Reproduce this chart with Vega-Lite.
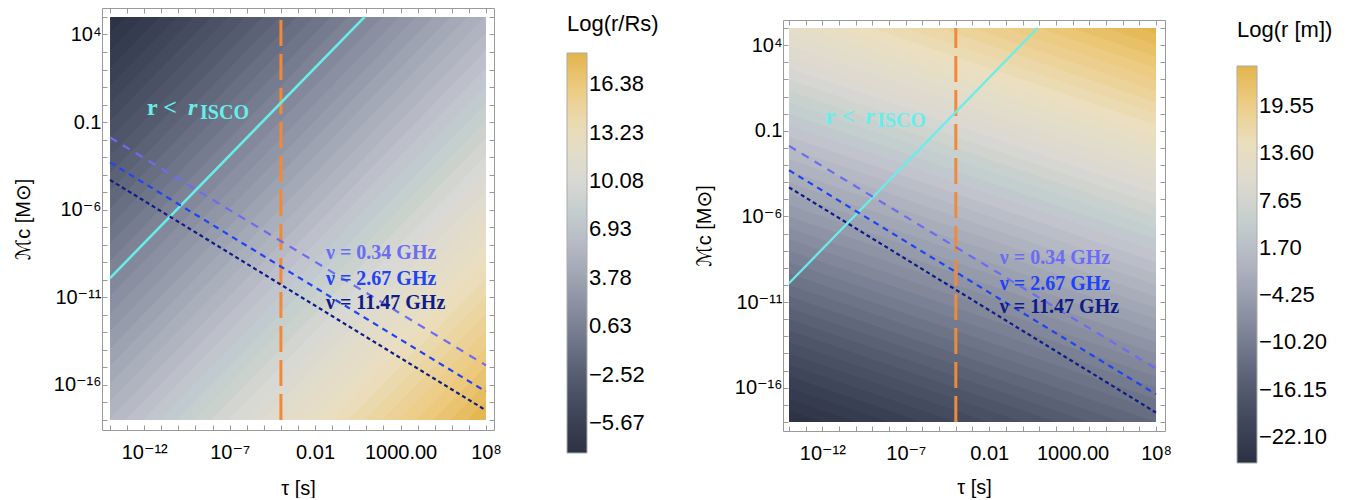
{
"$schema": "https://vega.github.io/schema/vega-lite/v6.json",
"background": "white",
"padding": {"left": 13, "top": 6, "right": 0, "bottom": 0},
"spacing": 29,
"datasets": {
"bandsL": [
{"k":-19,"t":1e-15,"lo":1e3,"hi":1.2e4,"v":-7.31},{"k":-19,"t":1e9,"lo":1e27,"hi":1.2e28,"v":-7.31},
{"k":-18,"t":1e-15,"lo":1e2,"hi":1.2e3,"v":-6.73},{"k":-18,"t":1e9,"lo":1e26,"hi":1.2e27,"v":-6.73},
{"k":-17,"t":1e-15,"lo":1e1,"hi":1.2e2,"v":-6.15},{"k":-17,"t":1e9,"lo":1e25,"hi":1.2e26,"v":-6.15},
{"k":-16,"t":1e-15,"lo":1e0,"hi":1.2e1,"v":-5.58},{"k":-16,"t":1e9,"lo":1e24,"hi":1.2e25,"v":-5.58},
{"k":-15,"t":1e-15,"lo":1e-1,"hi":1.2e0,"v":-5.0},{"k":-15,"t":1e9,"lo":1e23,"hi":1.2e24,"v":-5.0},
{"k":-14,"t":1e-15,"lo":1e-2,"hi":1.2e-1,"v":-4.42},{"k":-14,"t":1e9,"lo":1e22,"hi":1.2e23,"v":-4.42},
{"k":-13,"t":1e-15,"lo":1e-3,"hi":1.2e-2,"v":-3.84},{"k":-13,"t":1e9,"lo":1e21,"hi":1.2e22,"v":-3.84},
{"k":-12,"t":1e-15,"lo":1e-4,"hi":1.2e-3,"v":-3.26},{"k":-12,"t":1e9,"lo":1e20,"hi":1.2e21,"v":-3.26},
{"k":-11,"t":1e-15,"lo":1e-5,"hi":1.2e-4,"v":-2.69},{"k":-11,"t":1e9,"lo":1e19,"hi":1.2e20,"v":-2.69},
{"k":-10,"t":1e-15,"lo":1e-6,"hi":1.2e-5,"v":-2.11},{"k":-10,"t":1e9,"lo":1e18,"hi":1.2e19,"v":-2.11},
{"k":-9,"t":1e-15,"lo":1e-7,"hi":1.2e-6,"v":-1.53},{"k":-9,"t":1e9,"lo":1e17,"hi":1.2e18,"v":-1.53},
{"k":-8,"t":1e-15,"lo":1e-8,"hi":1.2e-7,"v":-0.95},{"k":-8,"t":1e9,"lo":1e16,"hi":1.2e17,"v":-0.95},
{"k":-7,"t":1e-15,"lo":1e-9,"hi":1.2e-8,"v":-0.38},{"k":-7,"t":1e9,"lo":1e15,"hi":1.2e16,"v":-0.38},
{"k":-6,"t":1e-15,"lo":1e-10,"hi":1.2e-9,"v":0.2},{"k":-6,"t":1e9,"lo":1e14,"hi":1.2e15,"v":0.2},
{"k":-5,"t":1e-15,"lo":1e-11,"hi":1.2e-10,"v":0.78},{"k":-5,"t":1e9,"lo":1e13,"hi":1.2e14,"v":0.78},
{"k":-4,"t":1e-15,"lo":1e-12,"hi":1.2e-11,"v":1.36},{"k":-4,"t":1e9,"lo":1e12,"hi":1.2e13,"v":1.36},
{"k":-3,"t":1e-15,"lo":1e-13,"hi":1.2e-12,"v":1.94},{"k":-3,"t":1e9,"lo":1e11,"hi":1.2e12,"v":1.94},
{"k":-2,"t":1e-15,"lo":1e-14,"hi":1.2e-13,"v":2.51},{"k":-2,"t":1e9,"lo":1e10,"hi":1.2e11,"v":2.51},
{"k":-1,"t":1e-15,"lo":1e-15,"hi":1.2e-14,"v":3.09},{"k":-1,"t":1e9,"lo":1e9,"hi":1.2e10,"v":3.09},
{"k":0,"t":1e-15,"lo":1e-16,"hi":1.2e-15,"v":3.67},{"k":0,"t":1e9,"lo":1e8,"hi":1.2e9,"v":3.67},
{"k":1,"t":1e-15,"lo":1e-17,"hi":1.2e-16,"v":4.25},{"k":1,"t":1e9,"lo":1e7,"hi":1.2e8,"v":4.25},
{"k":2,"t":1e-15,"lo":1e-18,"hi":1.2e-17,"v":4.83},{"k":2,"t":1e9,"lo":1e6,"hi":1.2e7,"v":4.83},
{"k":3,"t":1e-15,"lo":1e-19,"hi":1.2e-18,"v":5.4},{"k":3,"t":1e9,"lo":1e5,"hi":1.2e6,"v":5.4},
{"k":4,"t":1e-15,"lo":1e-20,"hi":1.2e-19,"v":5.98},{"k":4,"t":1e9,"lo":1e4,"hi":1.2e5,"v":5.98},
{"k":5,"t":1e-15,"lo":1e-21,"hi":1.2e-20,"v":6.56},{"k":5,"t":1e9,"lo":1e3,"hi":1.2e4,"v":6.56},
{"k":6,"t":1e-15,"lo":1e-22,"hi":1.2e-21,"v":7.14},{"k":6,"t":1e9,"lo":1e2,"hi":1.2e3,"v":7.14},
{"k":7,"t":1e-15,"lo":1e-23,"hi":1.2e-22,"v":7.71},{"k":7,"t":1e9,"lo":1e1,"hi":1.2e2,"v":7.71},
{"k":8,"t":1e-15,"lo":1e-24,"hi":1.2e-23,"v":8.29},{"k":8,"t":1e9,"lo":1e0,"hi":1.2e1,"v":8.29},
{"k":9,"t":1e-15,"lo":1e-25,"hi":1.2e-24,"v":8.87},{"k":9,"t":1e9,"lo":1e-1,"hi":1.2e0,"v":8.87},
{"k":10,"t":1e-15,"lo":1e-26,"hi":1.2e-25,"v":9.45},{"k":10,"t":1e9,"lo":1e-2,"hi":1.2e-1,"v":9.45},
{"k":11,"t":1e-15,"lo":1e-27,"hi":1.2e-26,"v":10.03},{"k":11,"t":1e9,"lo":1e-3,"hi":1.2e-2,"v":10.03},
{"k":12,"t":1e-15,"lo":1e-28,"hi":1.2e-27,"v":10.6},{"k":12,"t":1e9,"lo":1e-4,"hi":1.2e-3,"v":10.6},
{"k":13,"t":1e-15,"lo":1e-29,"hi":1.2e-28,"v":11.18},{"k":13,"t":1e9,"lo":1e-5,"hi":1.2e-4,"v":11.18},
{"k":14,"t":1e-15,"lo":1e-30,"hi":1.2e-29,"v":11.76},{"k":14,"t":1e9,"lo":1e-6,"hi":1.2e-5,"v":11.76},
{"k":15,"t":1e-15,"lo":1e-31,"hi":1.2e-30,"v":12.34},{"k":15,"t":1e9,"lo":1e-7,"hi":1.2e-6,"v":12.34},
{"k":16,"t":1e-15,"lo":1e-32,"hi":1.2e-31,"v":12.91},{"k":16,"t":1e9,"lo":1e-8,"hi":1.2e-7,"v":12.91},
{"k":17,"t":1e-15,"lo":1e-33,"hi":1.2e-32,"v":13.49},{"k":17,"t":1e9,"lo":1e-9,"hi":1.2e-8,"v":13.49},
{"k":18,"t":1e-15,"lo":1e-34,"hi":1.2e-33,"v":14.07},{"k":18,"t":1e9,"lo":1e-10,"hi":1.2e-9,"v":14.07},
{"k":19,"t":1e-15,"lo":1e-35,"hi":1.2e-34,"v":14.65},{"k":19,"t":1e9,"lo":1e-11,"hi":1.2e-10,"v":14.65},
{"k":20,"t":1e-15,"lo":1e-36,"hi":1.2e-35,"v":15.23},{"k":20,"t":1e9,"lo":1e-12,"hi":1.2e-11,"v":15.23},
{"k":21,"t":1e-15,"lo":1e-37,"hi":1.2e-36,"v":15.8},{"k":21,"t":1e9,"lo":1e-13,"hi":1.2e-12,"v":15.8},
{"k":22,"t":1e-15,"lo":1e-38,"hi":1.2e-37,"v":16.38},{"k":22,"t":1e9,"lo":1e-14,"hi":1.2e-13,"v":16.38},
{"k":23,"t":1e-15,"lo":1e-39,"hi":1.2e-38,"v":16.96},{"k":23,"t":1e9,"lo":1e-15,"hi":1.2e-14,"v":16.96},
{"k":24,"t":1e-15,"lo":1e-40,"hi":1.2e-39,"v":17.54},{"k":24,"t":1e9,"lo":1e-16,"hi":1.2e-15,"v":17.54},
{"k":25,"t":1e-15,"lo":1e-41,"hi":1.2e-40,"v":18.12},{"k":25,"t":1e9,"lo":1e-17,"hi":1.2e-16,"v":18.12}
],
"bandsR": [
{"j":-34,"m":1e-19,"lo":1e-11,"hi":2e-9,"v":-24.86},{"j":-34,"m":1e6,"lo":1e-86,"hi":2e-84,"v":-24.86},
{"j":-33,"m":1e-19,"lo":1e-9,"hi":2e-7,"v":-23.76},{"j":-33,"m":1e6,"lo":1e-84,"hi":2e-82,"v":-23.76},
{"j":-32,"m":1e-19,"lo":1e-7,"hi":2e-5,"v":-22.66},{"j":-32,"m":1e6,"lo":1e-82,"hi":2e-80,"v":-22.66},
{"j":-31,"m":1e-19,"lo":1e-5,"hi":2e-3,"v":-21.56},{"j":-31,"m":1e6,"lo":1e-80,"hi":2e-78,"v":-21.56},
{"j":-30,"m":1e-19,"lo":1e-3,"hi":2e-1,"v":-20.46},{"j":-30,"m":1e6,"lo":1e-78,"hi":2e-76,"v":-20.46},
{"j":-29,"m":1e-19,"lo":1e-1,"hi":2e1,"v":-19.36},{"j":-29,"m":1e6,"lo":1e-76,"hi":2e-74,"v":-19.36},
{"j":-28,"m":1e-19,"lo":1e1,"hi":2e3,"v":-18.26},{"j":-28,"m":1e6,"lo":1e-74,"hi":2e-72,"v":-18.26},
{"j":-27,"m":1e-19,"lo":1e3,"hi":2e5,"v":-17.16},{"j":-27,"m":1e6,"lo":1e-72,"hi":2e-70,"v":-17.16},
{"j":-26,"m":1e-19,"lo":1e5,"hi":2e7,"v":-16.06},{"j":-26,"m":1e6,"lo":1e-70,"hi":2e-68,"v":-16.06},
{"j":-25,"m":1e-19,"lo":1e7,"hi":2e9,"v":-14.97},{"j":-25,"m":1e6,"lo":1e-68,"hi":2e-66,"v":-14.97},
{"j":-24,"m":1e-19,"lo":1e9,"hi":2e11,"v":-13.87},{"j":-24,"m":1e6,"lo":1e-66,"hi":2e-64,"v":-13.87},
{"j":-23,"m":1e-19,"lo":1e11,"hi":2e13,"v":-12.77},{"j":-23,"m":1e6,"lo":1e-64,"hi":2e-62,"v":-12.77},
{"j":-22,"m":1e-19,"lo":1e13,"hi":2e15,"v":-11.67},{"j":-22,"m":1e6,"lo":1e-62,"hi":2e-60,"v":-11.67},
{"j":-21,"m":1e-19,"lo":1e15,"hi":2e17,"v":-10.57},{"j":-21,"m":1e6,"lo":1e-60,"hi":2e-58,"v":-10.57},
{"j":-20,"m":1e-19,"lo":1e17,"hi":2e19,"v":-9.47},{"j":-20,"m":1e6,"lo":1e-58,"hi":2e-56,"v":-9.47},
{"j":-19,"m":1e-19,"lo":1e19,"hi":2e21,"v":-8.37},{"j":-19,"m":1e6,"lo":1e-56,"hi":2e-54,"v":-8.37},
{"j":-18,"m":1e-19,"lo":1e21,"hi":2e23,"v":-7.27},{"j":-18,"m":1e6,"lo":1e-54,"hi":2e-52,"v":-7.27},
{"j":-17,"m":1e-19,"lo":1e23,"hi":2e25,"v":-6.17},{"j":-17,"m":1e6,"lo":1e-52,"hi":2e-50,"v":-6.17},
{"j":-16,"m":1e-19,"lo":1e25,"hi":2e27,"v":-5.07},{"j":-16,"m":1e6,"lo":1e-50,"hi":2e-48,"v":-5.07},
{"j":-15,"m":1e-19,"lo":1e27,"hi":2e29,"v":-3.98},{"j":-15,"m":1e6,"lo":1e-48,"hi":2e-46,"v":-3.98},
{"j":-14,"m":1e-19,"lo":1e29,"hi":2e31,"v":-2.88},{"j":-14,"m":1e6,"lo":1e-46,"hi":2e-44,"v":-2.88},
{"j":-13,"m":1e-19,"lo":1e31,"hi":2e33,"v":-1.78},{"j":-13,"m":1e6,"lo":1e-44,"hi":2e-42,"v":-1.78},
{"j":-12,"m":1e-19,"lo":1e33,"hi":2e35,"v":-0.68},{"j":-12,"m":1e6,"lo":1e-42,"hi":2e-40,"v":-0.68},
{"j":-11,"m":1e-19,"lo":1e35,"hi":2e37,"v":0.42},{"j":-11,"m":1e6,"lo":1e-40,"hi":2e-38,"v":0.42},
{"j":-10,"m":1e-19,"lo":1e37,"hi":2e39,"v":1.52},{"j":-10,"m":1e6,"lo":1e-38,"hi":2e-36,"v":1.52},
{"j":-9,"m":1e-19,"lo":1e39,"hi":2e41,"v":2.62},{"j":-9,"m":1e6,"lo":1e-36,"hi":2e-34,"v":2.62},
{"j":-8,"m":1e-19,"lo":1e41,"hi":2e43,"v":3.72},{"j":-8,"m":1e6,"lo":1e-34,"hi":2e-32,"v":3.72},
{"j":-7,"m":1e-19,"lo":1e43,"hi":2e45,"v":4.82},{"j":-7,"m":1e6,"lo":1e-32,"hi":2e-30,"v":4.82},
{"j":-6,"m":1e-19,"lo":1e45,"hi":2e47,"v":5.92},{"j":-6,"m":1e6,"lo":1e-30,"hi":2e-28,"v":5.92},
{"j":-5,"m":1e-19,"lo":1e47,"hi":2e49,"v":7.02},{"j":-5,"m":1e6,"lo":1e-28,"hi":2e-26,"v":7.02},
{"j":-4,"m":1e-19,"lo":1e49,"hi":2e51,"v":8.11},{"j":-4,"m":1e6,"lo":1e-26,"hi":2e-24,"v":8.11},
{"j":-3,"m":1e-19,"lo":1e51,"hi":2e53,"v":9.21},{"j":-3,"m":1e6,"lo":1e-24,"hi":2e-22,"v":9.21},
{"j":-2,"m":1e-19,"lo":1e53,"hi":2e55,"v":10.31},{"j":-2,"m":1e6,"lo":1e-22,"hi":2e-20,"v":10.31},
{"j":-1,"m":1e-19,"lo":1e55,"hi":2e57,"v":11.41},{"j":-1,"m":1e6,"lo":1e-20,"hi":2e-18,"v":11.41},
{"j":0,"m":1e-19,"lo":1e57,"hi":2e59,"v":12.51},{"j":0,"m":1e6,"lo":1e-18,"hi":2e-16,"v":12.51},
{"j":1,"m":1e-19,"lo":1e59,"hi":2e61,"v":13.61},{"j":1,"m":1e6,"lo":1e-16,"hi":2e-14,"v":13.61},
{"j":2,"m":1e-19,"lo":1e61,"hi":2e63,"v":14.71},{"j":2,"m":1e6,"lo":1e-14,"hi":2e-12,"v":14.71},
{"j":3,"m":1e-19,"lo":1e63,"hi":2e65,"v":15.81},{"j":3,"m":1e6,"lo":1e-12,"hi":2e-10,"v":15.81},
{"j":4,"m":1e-19,"lo":1e65,"hi":2e67,"v":16.91},{"j":4,"m":1e6,"lo":1e-10,"hi":2e-8,"v":16.91},
{"j":5,"m":1e-19,"lo":1e67,"hi":2e69,"v":18.01},{"j":5,"m":1e6,"lo":1e-8,"hi":2e-6,"v":18.01},
{"j":6,"m":1e-19,"lo":1e69,"hi":2e71,"v":19.1},{"j":6,"m":1e6,"lo":1e-6,"hi":2e-4,"v":19.1},
{"j":7,"m":1e-19,"lo":1e71,"hi":2e73,"v":20.2},{"j":7,"m":1e6,"lo":1e-4,"hi":2e-2,"v":20.2},
{"j":8,"m":1e-19,"lo":1e73,"hi":2e75,"v":21.3},{"j":8,"m":1e6,"lo":1e-2,"hi":2e0,"v":21.3},
{"j":9,"m":1e-19,"lo":1e75,"hi":2e77,"v":22.4},{"j":9,"m":1e6,"lo":1e0,"hi":2e2,"v":22.4},
{"j":10,"m":1e-19,"lo":1e77,"hi":2e79,"v":23.5},{"j":10,"m":1e6,"lo":1e2,"hi":2e4,"v":23.5},
{"j":11,"m":1e-19,"lo":1e79,"hi":2e81,"v":24.6},{"j":11,"m":1e6,"lo":1e4,"hi":2e6,"v":24.6}
],
"masks": [
{"x1":1e-16,"x2":1e-14,"y1":1e-20,"y2":1e7},
{"x1":1e8,"x2":1e10,"y1":1e-20,"y2":1e7},
{"x1":1e-16,"x2":1e10,"y1":1e5,"y2":1e7},
{"x1":1e-16,"x2":1e10,"y1":1e-20,"y2":1e-18}
],
"tau0": [{"t":1e-4,"m1":1e-18,"m2":1e5}],
"isco": [{"t":1e-14,"m":1.26e-10},{"t":7.94,"m":1e5}],
"freq": [
{"nu":"0.34","t":1e-14,"m":0.01318},{"nu":"0.34","t":1e8,"m":1.318e-15},
{"nu":"2.67","t":1e-14,"m":5.01e-4},{"nu":"2.67","t":1e8,"m":4.17e-17},
{"nu":"11.47","t":1e-14,"m":5.01e-5},{"nu":"11.47","t":1e8,"m":3.55e-18}
],
"freqLabels": [
{"nu":"0.34","t":0.0437,"m":1.58e-9,"text":"ν = 0.34 GHz"},
{"nu":"2.67","t":0.0437,"m":5.37e-11,"text":"ν = 2.67 GHz"},
{"nu":"11.47","t":0.0437,"m":2.24e-12,"text":"ν = 11.47 GHz"}
],
"iscoLabel": [
{"part":"a","t":1.46e-12,"m":0.265,"text":"r <"},
{"part":"b","t":3.66e-10,"m":0.265,"text":"r"},
{"part":"c","t":1.86e-9,"m":0.157,"text":"ISCO"}
]
},
"hconcat": [
{
"width": 392, "height": 422,
"resolve": {"axis": {"x": "independent", "y": "independent"}},
"layer": [
{"data": {"name": "bandsL"},
 "mark": {"type": "area", "orient": "vertical", "clip": true},
 "encoding": {
  "x": {"field": "t", "type": "quantitative", "scale": {"type": "log", "domain": [3.388e-15, 2.951e8], "nice": false},
   "axis": {"orient": "bottom", "zindex": 1, "values": [1e-14,1e-13,1e-12,1e-11,1e-10,1e-9,1e-8,1e-7,1e-6,1e-5,1e-4,1e-3,1e-2,1e-1,1,10,100,1e3,1e4,1e5,1e6,1e7,1e8],
    "labelExpr": "round(log(datum.value)/LN10)==-12?'10⁻¹²':round(log(datum.value)/LN10)==-7?'10⁻⁷':round(log(datum.value)/LN10)==-2?'0.01':round(log(datum.value)/LN10)==3?'1000.00':round(log(datum.value)/LN10)==8?'10⁸':''",
    "title": "τ [s]", "labelPadding": 17, "titlePadding": 16}},
  "y": {"field": "lo", "type": "quantitative", "scale": {"type": "log", "domain": [2.692e-19, 3.236e5], "nice": false},
   "axis": {"orient": "left", "zindex": 1, "values": [1e-18,1e-17,1e-16,1e-15,1e-14,1e-13,1e-12,1e-11,1e-10,1e-9,1e-8,1e-7,1e-6,1e-5,1e-4,1e-3,1e-2,1e-1,1,10,100,1e3,1e4,1e5],
    "labelExpr": "round(log(datum.value)/LN10)==4?'10⁴':round(log(datum.value)/LN10)==-1?'0.1':round(log(datum.value)/LN10)==-6?'10⁻⁶':round(log(datum.value)/LN10)==-11?'10⁻¹¹':round(log(datum.value)/LN10)==-16?'10⁻¹⁶':''",
    "title": "ℳc [M⊙]", "labelPadding": 6, "titlePadding": 20}},
  "y2": {"field": "hi"},
  "detail": {"field": "k", "type": "nominal"},
  "color": {"field": "v", "type": "quantitative",
   "scale": {"domain": [-7.6,-5.67,-2.52,0.63,3.78,6.93,10.08,13.23,16.38,18.4], "range": ["#2c3244","#3a4053","#575d71","#7b8194","#9fa4b3","#c1c4cd","#d9d8d4","#ebdfc0","#ecc97c","#e3b44c"], "clamp": true},
   "legend": {"title": "Log(r/Rs)", "orient": "right", "direction": "vertical", "offset": 66, "padding": 6, "gradientLength": 400, "titlePadding": 17, "values": [-5.67,-2.52,0.63,3.78,6.93,10.08,13.23,16.38], "format": ".2f"}}
 }},
{"data": {"name": "masks"},
 "mark": {"type": "rect", "color": "white", "clip": true},
 "encoding": {
  "x": {"field": "x1", "type": "quantitative", "scale": {"type": "log", "domain": [3.388e-15, 2.951e8], "nice": false},
   "axis": {"orient": "top", "zindex": 1, "values": [1e-14,1e-13,1e-12,1e-11,1e-10,1e-9,1e-8,1e-7,1e-6,1e-5,1e-4,1e-3,1e-2,1e-1,1,10,100,1e3,1e4,1e5,1e6,1e7,1e8], "labels": false, "title": null}},
  "x2": {"field": "x2"},
  "y": {"field": "y1", "type": "quantitative", "scale": {"type": "log", "domain": [2.692e-19, 3.236e5], "nice": false},
   "axis": {"orient": "right", "zindex": 1, "values": [1e-18,1e-17,1e-16,1e-15,1e-14,1e-13,1e-12,1e-11,1e-10,1e-9,1e-8,1e-7,1e-6,1e-5,1e-4,1e-3,1e-2,1e-1,1,10,100,1e3,1e4,1e5], "labels": false, "title": null}},
  "y2": {"field": "y2"}
 }},
{"data": {"name": "tau0"},
 "mark": {"type": "rule", "color": "#ef8a3c", "strokeWidth": 3, "strokeDash": [26, 8]},
 "encoding": {
  "x": {"field": "t", "type": "quantitative", "scale": {"type": "log", "domain": [3.388e-15, 2.951e8], "nice": false}, "axis": null},
  "y": {"field": "m1", "type": "quantitative", "scale": {"type": "log", "domain": [2.692e-19, 3.236e5], "nice": false}, "axis": null},
  "y2": {"field": "m2"}
 }},
{"data": {"name": "isco"},
 "mark": {"type": "line", "color": "#68eeea", "strokeWidth": 2.5},
 "encoding": {
  "x": {"field": "t", "type": "quantitative", "scale": {"type": "log", "domain": [3.388e-15, 2.951e8], "nice": false}, "axis": null},
  "y": {"field": "m", "type": "quantitative", "scale": {"type": "log", "domain": [2.692e-19, 3.236e5], "nice": false}, "axis": null}
 }},
{"data": {"name": "freq"},
 "mark": {"type": "line", "strokeWidth": 2.2},
 "encoding": {
  "x": {"field": "t", "type": "quantitative", "scale": {"type": "log", "domain": [3.388e-15, 2.951e8], "nice": false}, "axis": null},
  "y": {"field": "m", "type": "quantitative", "scale": {"type": "log", "domain": [2.692e-19, 3.236e5], "nice": false}, "axis": null},
  "stroke": {"field": "nu", "type": "nominal", "scale": {"domain": ["0.34","2.67","11.47"], "range": ["#6b6cf2","#2043f5","#101c86"]}, "legend": null},
  "strokeDash": {"field": "nu", "type": "nominal", "scale": {"domain": ["0.34","2.67","11.47"], "range": [[8,7],[6,5],[4,3]]}, "legend": null}
 }},
{"data": {"name": "freqLabels"},
 "mark": {"type": "text", "font": "Liberation Serif", "fontWeight": "bold", "fontSize": 20, "align": "left", "baseline": "alphabetic"},
 "encoding": {
  "x": {"field": "t", "type": "quantitative", "scale": {"type": "log", "domain": [3.388e-15, 2.951e8], "nice": false}, "axis": null},
  "y": {"field": "m", "type": "quantitative", "scale": {"type": "log", "domain": [2.692e-19, 3.236e5], "nice": false}, "axis": null},
  "text": {"field": "text"},
  "fill": {"field": "nu", "type": "nominal", "scale": {"domain": ["0.34","2.67","11.47"], "range": ["#6b6cf2","#2043f5","#101c86"]}, "legend": null}
 }},
{"data": {"name": "iscoLabel"}, "transform": [{"filter": "datum.part == 'a'"}],
 "mark": {"type": "text", "font": "Liberation Serif", "fontWeight": "bold", "fontSize": 24, "align": "left", "baseline": "alphabetic", "color": "#68eeea"},
 "encoding": {
  "x": {"field": "t", "type": "quantitative", "scale": {"type": "log", "domain": [3.388e-15, 2.951e8], "nice": false}, "axis": null},
  "y": {"field": "m", "type": "quantitative", "scale": {"type": "log", "domain": [2.692e-19, 3.236e5], "nice": false}, "axis": null},
  "text": {"field": "text"}
 }},
{"data": {"name": "iscoLabel"}, "transform": [{"filter": "datum.part == 'b'"}],
 "mark": {"type": "text", "font": "Liberation Serif", "fontWeight": "bold", "fontStyle": "italic", "fontSize": 24, "align": "left", "baseline": "alphabetic", "color": "#68eeea"},
 "encoding": {
  "x": {"field": "t", "type": "quantitative", "scale": {"type": "log", "domain": [3.388e-15, 2.951e8], "nice": false}, "axis": null},
  "y": {"field": "m", "type": "quantitative", "scale": {"type": "log", "domain": [2.692e-19, 3.236e5], "nice": false}, "axis": null},
  "text": {"field": "text"}
 }},
{"data": {"name": "iscoLabel"}, "transform": [{"filter": "datum.part == 'c'"}],
 "mark": {"type": "text", "font": "Liberation Serif", "fontWeight": "bold", "fontSize": 20, "align": "left", "baseline": "alphabetic", "color": "#68eeea"},
 "encoding": {
  "x": {"field": "t", "type": "quantitative", "scale": {"type": "log", "domain": [3.388e-15, 2.951e8], "nice": false}, "axis": null},
  "y": {"field": "m", "type": "quantitative", "scale": {"type": "log", "domain": [2.692e-19, 3.236e5], "nice": false}, "axis": null},
  "text": {"field": "text"}
 }}
]
},
{
"spacing": 9,
"resolve": {"scale": {"color": "independent"}},
"vconcat": [
{"width": 10, "height": 1, "data": {"values": []}, "mark": "point"},
{
"width": 382, "height": 411,
"resolve": {"axis": {"x": "independent", "y": "independent"}},
"layer": [
{"data": {"name": "bandsR"},
 "mark": {"type": "area", "orient": "horizontal", "clip": true},
 "encoding": {
  "y": {"field": "m", "type": "quantitative", "scale": {"type": "log", "domain": [2.985e-19, 2.951e5], "nice": false},
   "axis": {"orient": "left", "zindex": 1, "values": [1e-18,1e-17,1e-16,1e-15,1e-14,1e-13,1e-12,1e-11,1e-10,1e-9,1e-8,1e-7,1e-6,1e-5,1e-4,1e-3,1e-2,1e-1,1,10,100,1e3,1e4,1e5],
    "labelExpr": "round(log(datum.value)/LN10)==4?'10⁴':round(log(datum.value)/LN10)==-1?'0.1':round(log(datum.value)/LN10)==-6?'10⁻⁶':round(log(datum.value)/LN10)==-11?'10⁻¹¹':round(log(datum.value)/LN10)==-16?'10⁻¹⁶':''",
    "title": "ℳc [M⊙]", "labelPadding": 6, "titlePadding": 20}},
  "x": {"field": "lo", "type": "quantitative", "scale": {"type": "log", "domain": [4.365e-15, 3.467e8], "nice": false},
   "axis": {"orient": "bottom", "zindex": 1, "values": [1e-14,1e-13,1e-12,1e-11,1e-10,1e-9,1e-8,1e-7,1e-6,1e-5,1e-4,1e-3,1e-2,1e-1,1,10,100,1e3,1e4,1e5,1e6,1e7,1e8],
    "labelExpr": "round(log(datum.value)/LN10)==-12?'10⁻¹²':round(log(datum.value)/LN10)==-7?'10⁻⁷':round(log(datum.value)/LN10)==-2?'0.01':round(log(datum.value)/LN10)==3?'1000.00':round(log(datum.value)/LN10)==8?'10⁸':''",
    "title": "τ [s]", "labelPadding": 17, "titlePadding": 14}},
  "x2": {"field": "hi"},
  "detail": {"field": "j", "type": "nominal"},
  "color": {"field": "v", "type": "quantitative",
   "scale": {"domain": [-25.4,-21.65,-15.6,-9.55,-3.5,2.55,8.6,14.65,20.7,24.6], "range": ["#2c3244","#3a4053","#575d71","#7b8194","#9fa4b3","#c1c4cd","#d9d8d4","#ebdfc0","#ecc97c","#e3b44c"], "clamp": true},
   "legend": {"title": "Log(r [m])", "orient": "right", "direction": "vertical", "offset": 71, "padding": 0, "gradientLength": 397, "titlePadding": 24, "values": [-22.1,-16.15,-10.2,-4.25,1.7,7.65,13.6,19.55], "format": ".2f"}}
 }},
{"data": {"name": "masks"},
 "mark": {"type": "rect", "color": "white", "clip": true},
 "encoding": {
  "x": {"field": "x1", "type": "quantitative", "scale": {"type": "log", "domain": [4.365e-15, 3.467e8], "nice": false},
   "axis": {"orient": "top", "zindex": 1, "values": [1e-14,1e-13,1e-12,1e-11,1e-10,1e-9,1e-8,1e-7,1e-6,1e-5,1e-4,1e-3,1e-2,1e-1,1,10,100,1e3,1e4,1e5,1e6,1e7,1e8], "labels": false, "title": null}},
  "x2": {"field": "x2"},
  "y": {"field": "y1", "type": "quantitative", "scale": {"type": "log", "domain": [2.985e-19, 2.951e5], "nice": false},
   "axis": {"orient": "right", "zindex": 1, "values": [1e-18,1e-17,1e-16,1e-15,1e-14,1e-13,1e-12,1e-11,1e-10,1e-9,1e-8,1e-7,1e-6,1e-5,1e-4,1e-3,1e-2,1e-1,1,10,100,1e3,1e4,1e5], "labels": false, "title": null}},
  "y2": {"field": "y2"}
 }},
{"data": {"name": "tau0"},
 "mark": {"type": "rule", "color": "#ef8a3c", "strokeWidth": 3, "strokeDash": [26, 8]},
 "encoding": {
  "x": {"field": "t", "type": "quantitative", "scale": {"type": "log", "domain": [4.365e-15, 3.467e8], "nice": false}, "axis": null},
  "y": {"field": "m1", "type": "quantitative", "scale": {"type": "log", "domain": [2.985e-19, 2.951e5], "nice": false}, "axis": null},
  "y2": {"field": "m2"}
 }},
{"data": {"name": "isco"},
 "mark": {"type": "line", "color": "#68eeea", "strokeWidth": 2.2},
 "encoding": {
  "x": {"field": "t", "type": "quantitative", "scale": {"type": "log", "domain": [4.365e-15, 3.467e8], "nice": false}, "axis": null},
  "y": {"field": "m", "type": "quantitative", "scale": {"type": "log", "domain": [2.985e-19, 2.951e5], "nice": false}, "axis": null}
 }},
{"data": {"name": "freq"},
 "mark": {"type": "line", "strokeWidth": 2.2},
 "encoding": {
  "x": {"field": "t", "type": "quantitative", "scale": {"type": "log", "domain": [4.365e-15, 3.467e8], "nice": false}, "axis": null},
  "y": {"field": "m", "type": "quantitative", "scale": {"type": "log", "domain": [2.985e-19, 2.951e5], "nice": false}, "axis": null},
  "stroke": {"field": "nu", "type": "nominal", "scale": {"domain": ["0.34","2.67","11.47"], "range": ["#6b6cf2","#2043f5","#101c86"]}, "legend": null},
  "strokeDash": {"field": "nu", "type": "nominal", "scale": {"domain": ["0.34","2.67","11.47"], "range": [[8,7],[6,5],[4,3]]}, "legend": null}
 }},
{"data": {"name": "freqLabels"},
 "mark": {"type": "text", "font": "Liberation Serif", "fontWeight": "bold", "fontSize": 20, "align": "left", "baseline": "alphabetic"},
 "encoding": {
  "x": {"field": "t", "type": "quantitative", "scale": {"type": "log", "domain": [4.365e-15, 3.467e8], "nice": false}, "axis": null},
  "y": {"field": "m", "type": "quantitative", "scale": {"type": "log", "domain": [2.985e-19, 2.951e5], "nice": false}, "axis": null},
  "text": {"field": "text"},
  "fill": {"field": "nu", "type": "nominal", "scale": {"domain": ["0.34","2.67","11.47"], "range": ["#6b6cf2","#2043f5","#101c86"]}, "legend": null}
 }},
{"data": {"name": "iscoLabel"}, "transform": [{"filter": "datum.part == 'a'"}],
 "mark": {"type": "text", "font": "Liberation Serif", "fontWeight": "bold", "fontSize": 24, "align": "left", "baseline": "alphabetic", "color": "#68eeea"},
 "encoding": {
  "x": {"field": "t", "type": "quantitative", "scale": {"type": "log", "domain": [4.365e-15, 3.467e8], "nice": false}, "axis": null},
  "y": {"field": "m", "type": "quantitative", "scale": {"type": "log", "domain": [2.985e-19, 2.951e5], "nice": false}, "axis": null},
  "text": {"field": "text"}
 }},
{"data": {"name": "iscoLabel"}, "transform": [{"filter": "datum.part == 'b'"}],
 "mark": {"type": "text", "font": "Liberation Serif", "fontWeight": "bold", "fontStyle": "italic", "fontSize": 24, "align": "left", "baseline": "alphabetic", "color": "#68eeea"},
 "encoding": {
  "x": {"field": "t", "type": "quantitative", "scale": {"type": "log", "domain": [4.365e-15, 3.467e8], "nice": false}, "axis": null},
  "y": {"field": "m", "type": "quantitative", "scale": {"type": "log", "domain": [2.985e-19, 2.951e5], "nice": false}, "axis": null},
  "text": {"field": "text"}
 }},
{"data": {"name": "iscoLabel"}, "transform": [{"filter": "datum.part == 'c'"}],
 "mark": {"type": "text", "font": "Liberation Serif", "fontWeight": "bold", "fontSize": 20, "align": "left", "baseline": "alphabetic", "color": "#68eeea"},
 "encoding": {
  "x": {"field": "t", "type": "quantitative", "scale": {"type": "log", "domain": [4.365e-15, 3.467e8], "nice": false}, "axis": null},
  "y": {"field": "m", "type": "quantitative", "scale": {"type": "log", "domain": [2.985e-19, 2.951e5], "nice": false}, "axis": null},
  "text": {"field": "text"}
 }}
]
}
]
}
],
"resolve": {"scale": {"color": "independent", "x": "independent", "y": "independent"}},
"config": {
 "view": {"stroke": null},
 "font": "Liberation Sans",
 "axis": {"grid": false, "domainColor": "#9a9a9a", "tickColor": "#9a9a9a", "tickSize": -5, "labelFont": "Liberation Sans, DejaVu Sans", "labelFontSize": 20, "labelColor": "#000000", "titleFont": "Liberation Sans, DejaVu Sans", "titleFontSize": 20, "titleFontWeight": "normal", "titleColor": "#000000", "labelFlush": false, "labelOverlap": false},
 "legend": {"titleFont": "Liberation Sans", "titleFontSize": 22, "titleFontWeight": "normal", "titleColor": "#000000", "labelFont": "Liberation Sans", "labelFontSize": 22, "labelColor": "#000000", "gradientThickness": 20, "gradientStrokeColor": "#aaaaaa", "gradientStrokeWidth": 1, "labelOverlap": false, "titleLimit": 300, "labelOffset": 10}
}
}
